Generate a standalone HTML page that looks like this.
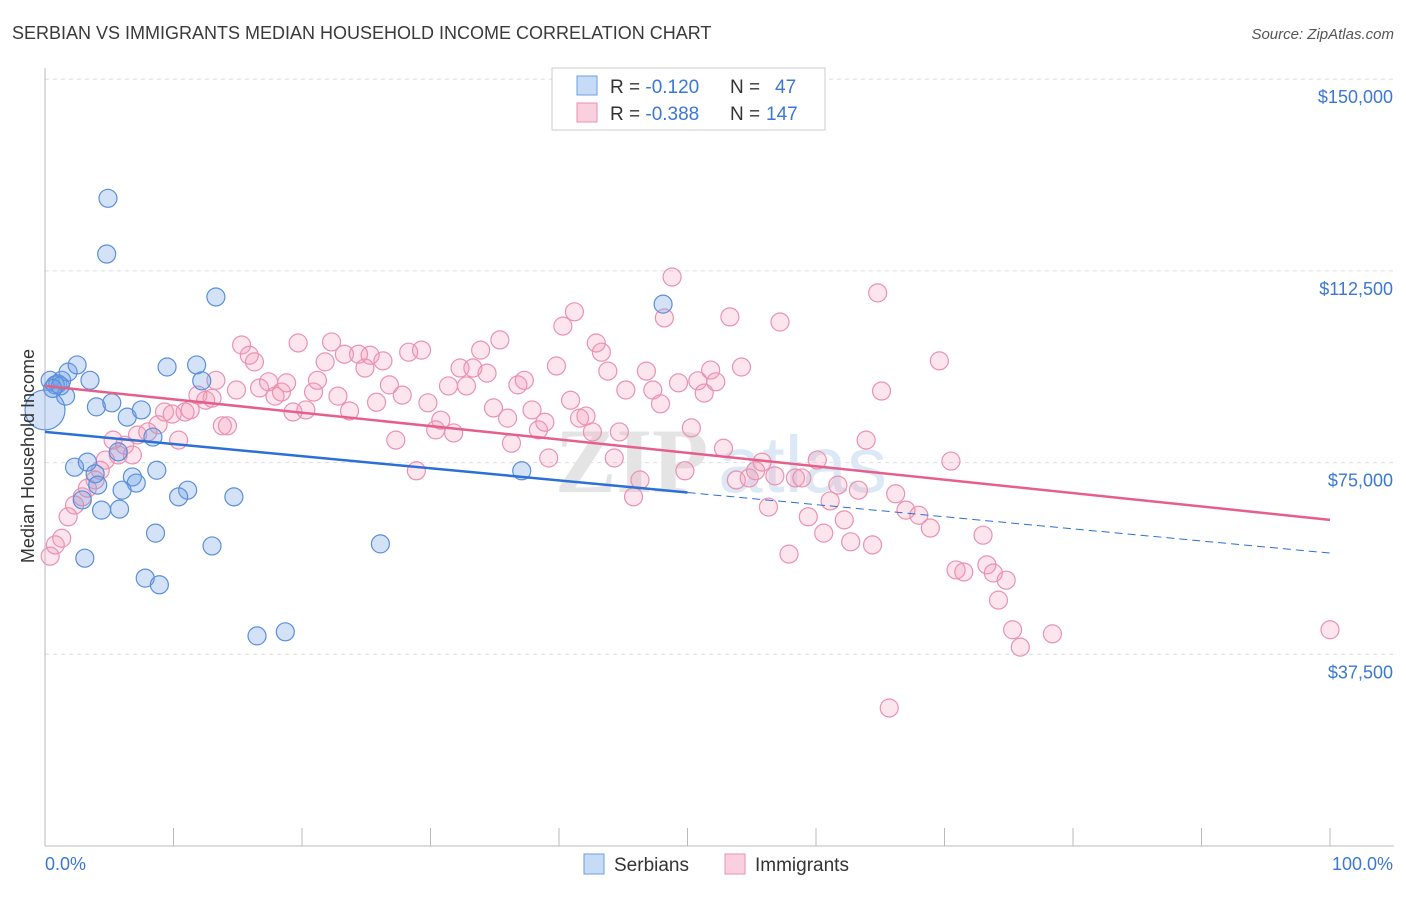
<!DOCTYPE html>
<html><head><meta charset="utf-8"><style>
body{margin:0;background:#fff;font-family:"Liberation Sans",sans-serif}
</style></head><body>
<svg width="1406" height="892" viewBox="0 0 1406 892" xmlns="http://www.w3.org/2000/svg">
<text x="12" y="39" font-size="18" fill="#3a3a3a">SERBIAN VS IMMIGRANTS MEDIAN HOUSEHOLD INCOME CORRELATION CHART</text>
<text x="1394" y="39" font-size="15" fill="#555" font-style="italic" text-anchor="end">Source: ZipAtlas.com</text>
<g id="grid"></g>
<g id="wm"><text x="555" y="492" font-size="92" fill="#e4e4e4" font-family="Liberation Serif,serif" font-weight="bold">ZIP</text><text x="718" y="492" font-size="80" fill="#dde8f6">atlas</text></g>
<g id="axes"></g>
<g id="pts"></g>
<g id="lines"></g>
<text transform="translate(34,456) rotate(-90)" font-size="18" fill="#333" text-anchor="middle">Median Household Income</text>
<text x="45" y="870" font-size="18" fill="#3b78d4">0.0%</text>
<text x="1393" y="870" font-size="18" fill="#3b78d4" text-anchor="end">100.0%</text>
<g>
<rect x="552" y="68" width="273" height="62" fill="#fff" stroke="#ccc"/>
<rect x="577" y="76" width="20" height="19" fill="#c6dcf6" stroke="#6e9ee0"/>
<rect x="577" y="103" width="20" height="19" fill="#fbd0de" stroke="#e890ac"/>
<text x="610" y="93" font-size="19" fill="#333">R = <tspan fill="#3b78d4">-0.120</tspan><tspan x="730">N = </tspan><tspan x="775" fill="#3b78d4">47</tspan></text>
<text x="610" y="120" font-size="19" fill="#333">R = <tspan fill="#3b78d4">-0.388</tspan><tspan x="730">N = </tspan><tspan x="766" fill="#3b78d4">147</tspan></text>
</g>
<g>
<rect x="584" y="854" width="20" height="20" fill="#c6dcf6" stroke="#6e9ee0"/>
<text x="614" y="871" font-size="19" fill="#333">Serbians</text>
<rect x="725" y="854" width="20" height="20" fill="#fbd0de" stroke="#e890ac"/>
<text x="755" y="871" font-size="19" fill="#333">Immigrants</text>
</g>
</svg>
<script>
const yTicks=[37500,75000,112500,150000];
const yTickLabels=["$37,500","$75,000","$112,500","$150,000"];
const xTicks=[0,10,20,30,40,50,60,70,80,90,100];
const serbX=[0,0.4,1.0,1.3,1.8,2.5,1.6,3.5,0.8,4.9,4.8,13.3,48.1,9.5,11.8,12.2,4.0,5.2,6.4,7.5,8.4,5.7,2.3,3.3,8.7,3.9,4.1,6.8,7.1,6.0,11.1,10.4,14.7,2.9,4.4,5.8,8.6,13.0,26.1,3.1,7.8,8.9,16.5,18.7,37.1,1.2,0.6];
const serbY=[85.3,91.1,90.4,91.1,92.7,94.1,88.0,91.1,90.2,126.7,115.8,107.4,106.0,93.7,94.1,91.0,85.9,86.7,83.9,85.3,80.0,77.1,74.1,75.1,73.5,72.8,70.6,72.2,71.0,69.6,69.6,68.3,68.3,67.7,65.7,65.9,61.2,58.7,59.1,56.3,52.4,51.1,41.1,41.9,73.4,90.0,89.5];
const immX=[0.4,0.8,1.3,1.8,2.3,2.9,3.3,3.9,4.3,4.7,5.3,5.7,6.2,6.8,7.2,8.0,8.8,9.3,9.9,10.4,10.9,11.3,11.9,12.5,13.0,13.3,13.8,14.2,14.9,15.3,15.9,16.3,16.7,17.4,17.9,18.4,18.8,19.3,19.7,20.3,20.9,21.2,21.8,22.3,22.8,23.3,23.7,24.4,24.9,25.3,25.8,26.3,26.8,27.3,27.8,28.3,28.9,29.3,29.8,30.4,30.8,31.4,31.8,32.3,32.8,33.3,33.9,34.4,34.9,35.4,36.0,36.3,36.8,37.3,37.9,38.4,38.9,39.2,39.8,40.3,40.9,41.2,41.6,42.1,42.6,42.9,43.3,43.8,44.3,44.7,45.2,45.8,46.3,46.8,47.3,47.9,48.2,48.8,49.3,49.8,50.3,50.8,51.3,51.8,52.2,52.8,53.3,53.8,54.2,54.8,55.3,55.8,56.3,56.8,57.2,57.9,58.4,58.9,59.4,60.1,60.6,61.1,61.7,62.2,62.7,63.3,63.9,64.4,64.8,65.1,65.7,66.2,67.0,68.0,68.9,69.6,70.5,70.9,71.5,73.0,73.3,73.8,74.2,74.8,75.3,75.9,78.4,100];
const immY=[56.7,58.9,60.2,64.4,66.7,68.3,70.0,71.6,73.5,75.5,79.4,76.5,78.4,76.5,80.4,81.0,82.4,84.9,84.5,79.4,84.9,85.3,88.2,87.2,87.6,91.1,82.2,82.2,89.2,98.0,96.0,94.7,89.6,90.8,88.0,88.8,90.6,84.9,98.4,85.3,88.8,91.1,94.7,98.6,88.0,96.2,85.1,96.2,93.5,96.0,86.8,94.9,90.2,79.4,88.2,96.6,73.4,97.0,86.7,81.4,83.3,90.0,80.8,93.5,90.0,93.5,97.0,92.5,85.7,99.0,83.7,78.8,90.2,91.1,85.3,81.4,82.9,75.9,93.9,101.7,87.2,104.5,83.7,84.1,81.0,98.4,96.6,92.9,75.9,81.0,89.2,68.3,71.6,92.9,89.2,86.5,103.3,111.3,90.6,73.4,81.8,91.0,88.6,93.1,90.8,77.8,103.5,71.6,93.7,72.0,73.4,75.1,66.3,72.4,102.5,57.1,72.0,72.0,64.4,75.5,61.2,67.5,70.6,63.8,59.5,69.6,79.4,58.9,108.2,89.0,27.0,68.9,65.7,64.7,62.2,94.9,75.3,54.0,53.6,60.8,55.0,53.4,48.1,52.0,42.3,38.9,41.5,42.3];
const serbTrend=[81.0,57.3]; // $k at 0% and 100%
const immTrend=[90.0,63.8];
const NS="http://www.w3.org/2000/svg";
const X=v=>45+v*12.85;
const Y=v=>846-v*1000/37500*191.7;
function mk(t,a,p){const e=document.createElementNS(NS,t);for(const k in a)e.setAttribute(k,a[k]);p.appendChild(e);return e;}
const grid=document.getElementById('grid'),axes=document.getElementById('axes'),pts=document.getElementById('pts'),lines=document.getElementById('lines');
yTicks.forEach((v,i)=>{
 const l=mk('line',{x1:45,x2:1394,y1:Y(v/1000),y2:Y(v/1000),stroke:'#ddd','stroke-dasharray':'4,4'},grid);
 
 
 const t=mk('text',{x:1393,y:Y(v/1000)+24,'font-size':18,fill:'#3b78d4','text-anchor':'end'},axes);
 t.textContent=yTickLabels[i];
 
 
});
const ax=mk('line',{x1:45,x2:45,y1:68,y2:846,stroke:'#bbb'},axes);


const bx=mk('line',{x1:45,x2:1394,y1:846,y2:846,stroke:'#bbb'},axes);


xTicks.forEach(v=>{
 const t=mk('line',{x1:X(v),x2:X(v),y1:828,y2:846,stroke:'#bbb'},axes);
 
 
});
immX.forEach((x,i)=>{
 const c=mk('circle',{cx:X(x),cy:Y(immY[i]),r:9,fill:'rgba(244,150,180,0.25)',stroke:'#ea92b0','stroke-width':1.2},pts);
 
 
});
serbX.forEach((x,i)=>{
 const c=mk('circle',{cx:X(x),cy:Y(serbY[i]),r:i===0?20:9,fill:'rgba(110,160,230,0.3)',stroke:'#5b8fdc','stroke-width':1.2},pts);
 
 
});
const ti=mk('line',{x1:X(0),y1:Y(immTrend[0]),x2:X(100),y2:Y(immTrend[1]),stroke:'#e4608a','stroke-width':2.5},lines);


const sm=serbTrend[0]+(serbTrend[1]-serbTrend[0])*0.5;
const ts=mk('line',{x1:X(0),y1:Y(serbTrend[0]),x2:X(50),y2:Y(sm),stroke:'#2c6fd6','stroke-width':2.5},lines);


const td=mk('line',{x1:X(50),y1:Y(sm),x2:X(100),y2:Y(serbTrend[1]),stroke:'#2c6fd6','stroke-width':1,'stroke-dasharray':'8,5'},lines);


</script>
</body></html>
